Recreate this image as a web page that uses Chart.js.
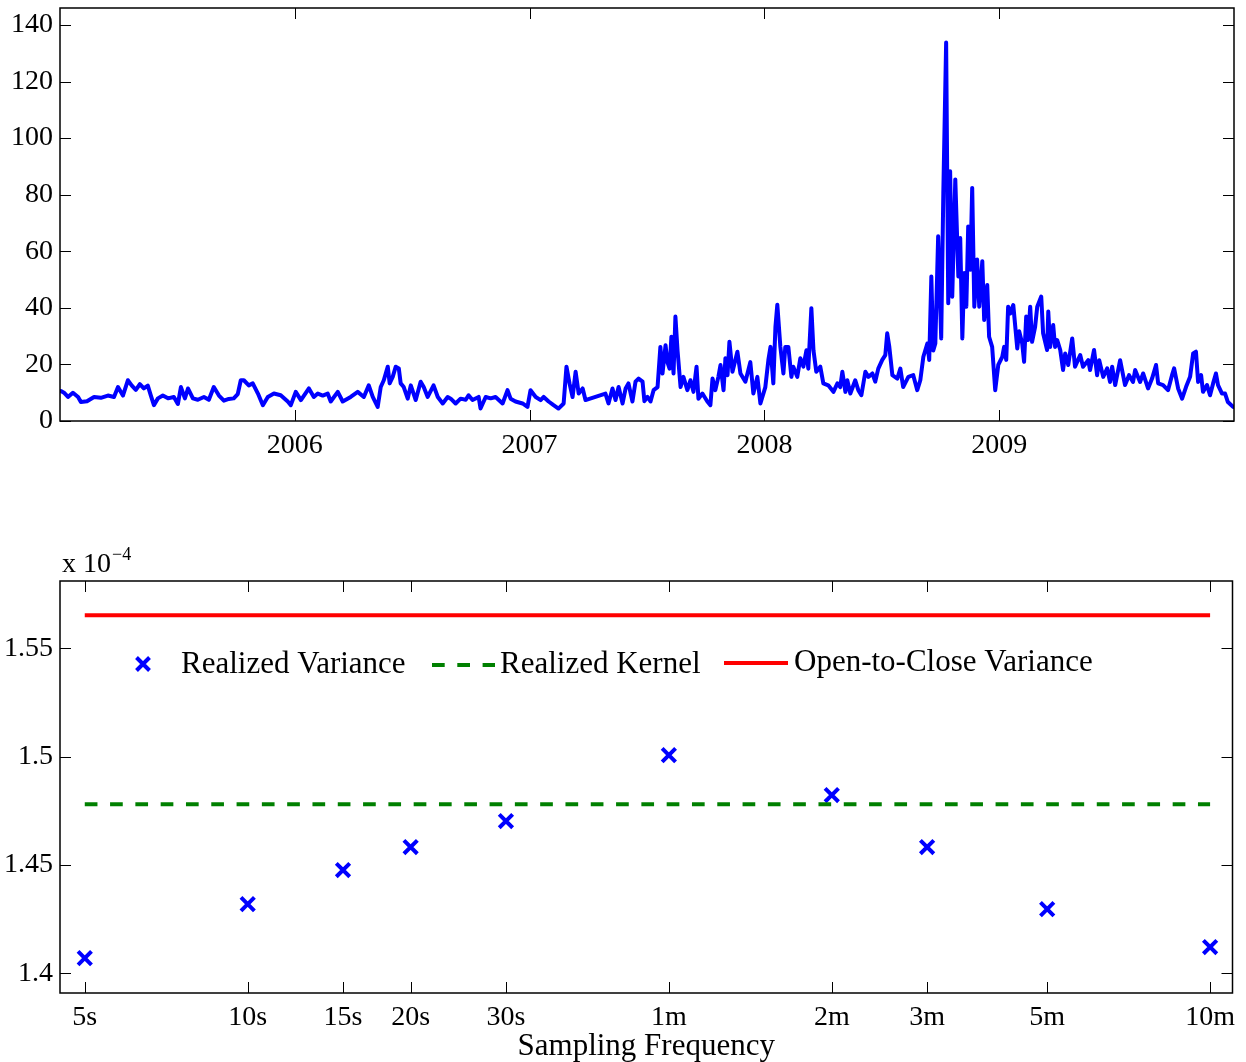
<!DOCTYPE html>
<html>
<head>
<meta charset="utf-8">
<script src="https://cdn.jsdelivr.net/npm/chart.js@4.4.0/dist/chart.umd.min.js"></script>
<style>
  body { margin: 0; background: #fff; }
  #wrap { position: relative; width: 1246px; height: 1062px; }
  #topChart { position: absolute; left: 0; top: 0; }
  #bottomChart { position: absolute; left: 0; top: 530px; }
</style>
</head>
<body>
<div id="wrap">
  <canvas id="topChart" width="1246" height="470"></canvas>
  <canvas id="bottomChart" width="1246" height="532"></canvas>
</div>
<script>
// ---- top panel: daily realized volatility, [decimal year, value] ----
const rv2005 = [
  [2005.004,10.6],[2005.017,10.0],[2005.034,8.5],[2005.055,10.0],[2005.077,8.5],[2005.089,6.7],
  [2005.115,7.0],[2005.145,8.5],[2005.174,8.2],[2005.204,9.0],[2005.230,8.5],[2005.247,12.0],
  [2005.268,9.0],[2005.289,14.4],[2005.306,12.5],[2005.323,11.0],[2005.340,13.0],[2005.357,11.5],
  [2005.374,12.5],[2005.387,9.0],[2005.400,5.6],[2005.417,8.0],[2005.438,9.0],[2005.460,8.0],
  [2005.485,8.5],[2005.502,6.0],[2005.515,12.0],[2005.532,8.0],[2005.545,11.5],[2005.566,8.0],
  [2005.587,7.5],[2005.613,8.5],[2005.634,7.5],[2005.655,12.0],[2005.677,9.0],[2005.698,7.2],
  [2005.719,7.8],[2005.740,8.0],[2005.757,9.5],[2005.770,14.4],[2005.783,14.4],[2005.804,12.6],
  [2005.821,13.3],[2005.843,9.7],[2005.864,5.6],[2005.885,8.5],[2005.911,9.7],[2005.940,9.1],
  [2005.970,6.9],[2005.983,5.6]
];
const rv2006 = [
  [2006.004,10.3],[2006.026,7.4],[2006.060,11.5],[2006.081,8.5],[2006.098,9.7],[2006.119,9.0],
  [2006.140,9.7],[2006.153,6.9],[2006.183,10.3],[2006.204,6.9],[2006.238,8.5],[2006.268,10.3],
  [2006.294,8.5],[2006.315,12.6],[2006.332,8.5],[2006.353,5.0],[2006.366,12.0],[2006.379,14.4],
  [2006.396,19.2],[2006.404,13.3],[2006.417,15.6],[2006.430,19.2],[2006.443,18.6],[2006.451,13.3],
  [2006.464,12.0],[2006.481,7.9],[2006.494,12.6],[2006.515,7.4],[2006.536,13.9],[2006.549,12.0],
  [2006.566,8.5],[2006.591,12.6],[2006.609,8.5],[2006.630,6.2],[2006.651,8.5],[2006.664,7.9],
  [2006.685,6.2],[2006.706,7.9],[2006.728,7.5],[2006.740,9.1],[2006.757,7.4],[2006.783,8.5],
  [2006.791,4.4],[2006.813,8.5],[2006.834,8.0],[2006.855,8.5],[2006.885,6.2],[2006.906,10.9],
  [2006.919,7.9],[2006.940,6.9],[2006.970,6.2],[2006.991,5.0]
];
const rv2007 = [
  [2007.004,10.9],[2007.026,8.5],[2007.047,7.4],[2007.060,8.5],[2007.081,6.9],[2007.102,5.6],
  [2007.123,4.4],[2007.145,6.2],[2007.157,19.2],[2007.170,13.3],[2007.183,8.5],[2007.196,17.4],
  [2007.209,9.7],[2007.226,11.5],[2007.238,7.4],[2007.323,9.7],[2007.336,6.2],[2007.353,11.5],
  [2007.366,7.4],[2007.379,12.0],[2007.396,6.2],[2007.409,11.5],[2007.421,13.3],[2007.438,6.9],
  [2007.451,13.9],[2007.464,15.0],[2007.481,13.9],[2007.489,7.0],[2007.502,8.5],[2007.515,6.9],
  [2007.528,10.9],[2007.545,12.0],[2007.557,26.2],[2007.566,16.8],[2007.579,26.8],[2007.587,20.8],
  [2007.596,18.5],[2007.604,29.8],[2007.613,16.8],[2007.621,36.9],[2007.630,25.0],[2007.643,12.0],
  [2007.655,15.6],[2007.672,10.9],[2007.685,14.4],[2007.698,10.3],[2007.711,19.2],[2007.719,7.9],
  [2007.736,9.7],[2007.757,6.9],[2007.770,5.6],[2007.779,15.0],[2007.791,10.9],[2007.804,15.6],
  [2007.813,19.8],[2007.826,10.9],[2007.834,22.2],[2007.843,16.2],[2007.851,28.0],[2007.864,17.4],
  [2007.885,24.5],[2007.898,16.8],[2007.919,13.9],[2007.940,20.8],[2007.953,9.7],[2007.970,15.6],
  [2007.983,6.2]
];
const rv2008 = [
  [2008.004,12.0],[2008.017,21.6],[2008.026,26.2],[2008.038,13.3],[2008.047,33.3],[2008.055,41.1],
  [2008.068,26.2],[2008.081,16.8],[2008.089,26.2],[2008.102,26.2],[2008.115,15.6],[2008.123,19.2],
  [2008.140,15.6],[2008.153,22.2],[2008.166,19.2],[2008.179,25.0],[2008.187,18.5],[2008.200,39.9],
  [2008.209,25.0],[2008.221,17.4],[2008.238,19.2],[2008.251,13.3],[2008.272,12.6],[2008.294,10.3],
  [2008.311,13.3],[2008.323,12.0],[2008.332,17.4],[2008.345,10.3],[2008.353,14.4],[2008.366,9.7],
  [2008.387,14.4],[2008.400,10.9],[2008.413,9.1],[2008.430,17.4],[2008.443,15.6],[2008.460,16.8],
  [2008.472,13.9],[2008.485,18.5],[2008.502,21.6],[2008.515,23.3],[2008.523,31.0],[2008.532,26.2],
  [2008.545,16.2],[2008.566,15.0],[2008.579,18.5],[2008.591,12.0],[2008.613,15.6],[2008.634,16.2],
  [2008.651,10.9],[2008.664,14.4],[2008.677,22.7],[2008.694,27.4],[2008.702,21.6],[2008.711,51.1],
  [2008.719,24.9],[2008.728,27.4],[2008.740,65.3],[2008.753,29.2],[2008.762,80.6],[2008.774,133.8],
  [2008.783,41.6],[2008.791,88.3],[2008.800,43.9],[2008.813,85.4],[2008.826,51.1],[2008.834,64.7],
  [2008.843,29.2],[2008.851,52.3],[2008.860,40.4],[2008.868,68.8],[2008.877,53.5],[2008.885,82.4],
  [2008.894,40.4],[2008.906,57.1],[2008.915,40.4],[2008.928,56.5],[2008.936,35.7],[2008.949,48.1],
  [2008.957,29.8],[2008.970,26.2],[2008.983,10.9],[2008.996,19.8]
];
const rv2009 = [
  [2009.013,22.7],[2009.021,26.2],[2009.030,21.6],[2009.038,40.4],[2009.047,38.0],[2009.060,41.0],
  [2009.077,25.6],[2009.085,31.7],[2009.098,27.4],[2009.106,20.9],[2009.115,36.9],[2009.123,28.6],
  [2009.132,40.4],[2009.140,28.0],[2009.153,33.3],[2009.162,40.4],[2009.179,44.0],[2009.187,31.0],
  [2009.204,25.1],[2009.209,38.7],[2009.217,26.2],[2009.230,33.9],[2009.238,26.2],[2009.247,28.6],
  [2009.260,25.1],[2009.272,18.0],[2009.281,23.9],[2009.294,19.8],[2009.311,29.2],[2009.323,19.2],
  [2009.345,23.3],[2009.357,19.2],[2009.379,21.5],[2009.387,18.0],[2009.404,25.1],[2009.417,16.2],
  [2009.426,21.5],[2009.443,15.6],[2009.460,18.6],[2009.472,13.8],[2009.481,19.2],[2009.494,12.7],
  [2009.515,21.5],[2009.536,12.7],[2009.553,16.2],[2009.570,13.8],[2009.579,18.0],[2009.600,13.8],
  [2009.613,16.8],[2009.634,11.5],[2009.651,15.0],[2009.668,19.8],[2009.677,13.3],[2009.698,12.7],
  [2009.719,10.9],[2009.736,16.2],[2009.745,18.6],[2009.762,11.5],[2009.779,7.9],[2009.796,12.1],
  [2009.813,15.6],[2009.826,23.9],[2009.838,24.5],[2009.847,13.8],[2009.860,16.2],[2009.868,10.3],
  [2009.885,12.7],[2009.898,9.1],[2009.911,13.3],[2009.923,16.8],[2009.932,12.7],[2009.949,9.7],
  [2009.962,9.7],[2009.974,6.7],[2009.996,5.0]
];
const yearTicks = [2006, 2007, 2008, 2009];
const volTicks = [0, 20, 40, 60, 80, 100, 120, 140];

// ---- bottom panel: estimates (x 10^-4) by sampling frequency ----
const freqSeconds = [5, 10, 15, 20, 30, 60, 120, 180, 300, 600];
const freqLabels = ['5s', '10s', '15s', '20s', '30s', '1m', '2m', '3m', '5m', '10m'];
const realizedVariance = [1.4071, 1.4320, 1.4477, 1.4583, 1.4703, 1.5007, 1.4823, 1.4583, 1.4297, 1.4122];
const realizedKernel = 1.4781;
const openToClose = 1.5652;
const varTicks = [1.4, 1.45, 1.5, 1.55];

Chart.defaults.font.family = '"Liberation Serif", "Times New Roman", serif';
Chart.defaults.font.size = 28;
Chart.defaults.color = '#000';
Chart.defaults.animation = false;

// matlab style box with inward ticks on all four sides
const axesBox = {
  id: 'axesBox',
  afterDatasetsDraw(chart) {
    const { ctx, chartArea: a, scales: { x, y } } = chart;
    const len = 11;
    ctx.save();
    ctx.strokeStyle = '#000';
    ctx.lineWidth = 1;
    ctx.beginPath();
    x.ticks.forEach(t => {
      const px = Math.round(x.getPixelForValue(t.value)) + 0.5;
      ctx.moveTo(px, a.bottom); ctx.lineTo(px, a.bottom - len);
      ctx.moveTo(px, a.top); ctx.lineTo(px, a.top + len);
    });
    y.ticks.forEach(t => {
      const py = Math.round(y.getPixelForValue(t.value)) + 0.5;
      ctx.moveTo(a.left, py); ctx.lineTo(a.left + len, py);
      ctx.moveTo(a.right, py); ctx.lineTo(a.right - len, py);
    });
    ctx.stroke();
    ctx.lineWidth = 1.5;
    ctx.strokeRect(a.left, a.top, a.right - a.left, a.bottom - a.top);
    ctx.restore();
  }
};

// legend inside the plot + the "x 10^-4" exponent label
const bottomExtras = {
  id: 'bottomExtras',
  afterDraw(chart) {
    const ctx = chart.ctx;
    const ly = 134;
    ctx.save();
    // exponent
    ctx.fillStyle = '#000';
    ctx.textBaseline = 'alphabetic';
    ctx.font = '28px "Liberation Serif"';
    ctx.fillText('x 10', 62, 42);
    const w = ctx.measureText('x 10').width;
    ctx.font = '18px "Liberation Serif"';
    ctx.fillText('\u22124', 62 + w + 1, 30);

    // legend samples
    ctx.strokeStyle = '#0000ff';
    ctx.lineWidth = 4;
    ctx.beginPath();
    ctx.moveTo(136.5, ly - 6.5); ctx.lineTo(149.5, ly + 6.5);
    ctx.moveTo(136.5, ly + 6.5); ctx.lineTo(149.5, ly - 6.5);
    ctx.stroke();

    ctx.strokeStyle = '#008000';
    ctx.lineWidth = 4;
    ctx.setLineDash([12.7, 12.6]);
    ctx.beginPath();
    ctx.moveTo(432, ly + 1); ctx.lineTo(495, ly + 1);
    ctx.stroke();
    ctx.setLineDash([]);

    ctx.strokeStyle = '#ff0000';
    ctx.lineWidth = 4;
    ctx.beginPath();
    ctx.moveTo(724, ly - 1); ctx.lineTo(788, ly - 1);
    ctx.stroke();

    ctx.font = '31px "Liberation Serif"';
    ctx.textBaseline = 'middle';
    ctx.fillText('Realized Variance', 181, ly + 1);
    ctx.fillText('Realized Kernel', 500, ly + 1);
    ctx.fillText('Open-to-Close Variance', 794, ly - 1);
    ctx.restore();
  }
};

// fixed axis box sizes so the plot area lines up with the figure
function fixY(s) { s.width = 60; s.paddingTop = 0; s.paddingBottom = 0; }

const rvSeries = [...rv2005, ...rv2006, ...rv2007, ...rv2008, ...rv2009].map(p => ({ x: p[0], y: p[1] }));

new Chart(document.getElementById('topChart'), {
  type: 'line',
  data: {
    datasets: [{
      data: rvSeries,
      borderColor: '#0000ff',
      borderWidth: 4,
      pointRadius: 0,
      tension: 0,
      borderJoinStyle: 'round',
      borderCapStyle: 'round'
    }]
  },
  options: {
    responsive: false,
    events: [],
    layout: { padding: { top: 8, right: 12, left: 0, bottom: 0 } },
    plugins: { legend: { display: false }, tooltip: { enabled: false } },
    scales: {
      x: {
        type: 'linear', min: 2005, max: 2010,
        grid: { display: false, drawTicks: false },
        border: { display: false },
        afterBuildTicks: s => { s.ticks = yearTicks.map(v => ({ value: v })); },
        ticks: { padding: 8, maxRotation: 0, autoSkip: false, callback: v => String(v) },
        afterFit: s => { s.height = 49; s.paddingLeft = 0; s.paddingRight = 0; }
      },
      y: {
        min: 0, max: 146,
        grid: { display: false, drawTicks: false },
        border: { display: false },
        afterBuildTicks: s => { s.ticks = volTicks.map(v => ({ value: v })); },
        ticks: { padding: 7, callback: v => String(v) },
        afterFit: fixY
      }
    }
  },
  plugins: [axesBox]
});

new Chart(document.getElementById('bottomChart'), {
  type: 'line',
  data: {
    datasets: [
      {
        label: 'Open-to-Close Variance',
        data: [{ x: 5, y: openToClose }, { x: 600, y: openToClose }],
        borderColor: '#ff0000', borderWidth: 4, pointRadius: 0
      },
      {
        label: 'Realized Kernel',
        data: [{ x: 5, y: realizedKernel }, { x: 600, y: realizedKernel }],
        borderColor: '#008000', borderWidth: 4, borderDash: [12.7, 12.6], pointRadius: 0
      },
      {
        label: 'Realized Variance',
        data: freqSeconds.map((s, i) => ({ x: s, y: realizedVariance[i] })),
        showLine: false,
        pointStyle: 'crossRot',
        pointRadius: 9.5,
        pointBorderWidth: 4,
        borderColor: '#0000ff',
        pointBorderColor: '#0000ff'
      }
    ]
  },
  options: {
    responsive: false,
    events: [],
    layout: { padding: { top: 51, right: 12, left: 0, bottom: 0 } },
    plugins: { legend: { display: false }, tooltip: { enabled: false } },
    scales: {
      x: {
        type: 'logarithmic', min: 4.5, max: 660,
        grid: { display: false, drawTicks: false },
        border: { display: false },
        afterBuildTicks: s => { s.ticks = freqSeconds.map(v => ({ value: v })); },
        ticks: { padding: 8, maxRotation: 0, autoSkip: false, callback: (v, i) => freqLabels[i] },
        title: { display: true, text: 'Sampling Frequency', font: { size: 31, lineHeight: 1 }, padding: 0 },
        afterFit: s => { s.height = 69; s.paddingLeft = 0; s.paddingRight = 0; }
      },
      y: {
        min: 1.391, max: 1.581,
        grid: { display: false, drawTicks: false },
        border: { display: false },
        afterBuildTicks: s => { s.ticks = varTicks.map(v => ({ value: v })); },
        ticks: { padding: 7, callback: v => String(v) },
        afterFit: fixY
      }
    }
  },
  plugins: [axesBox, bottomExtras]
});
</script>
</body>
</html>
